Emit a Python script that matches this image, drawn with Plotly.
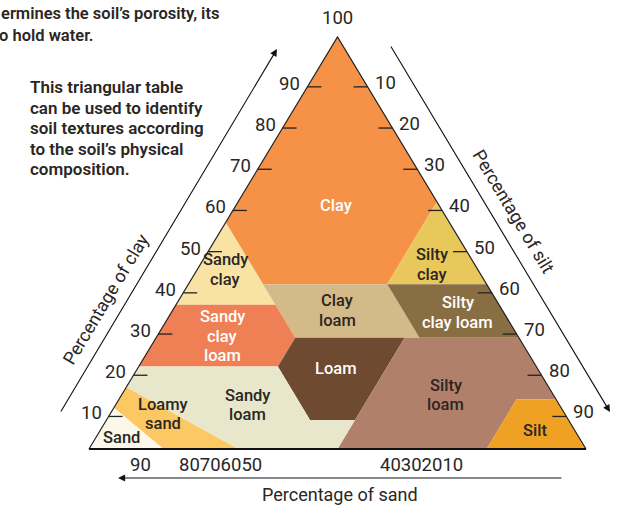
import plotly.graph_objects as go

# ---------------- data ----------------
TEXTURES = ["Clay", "Silty clay", "Sandy clay", "Clay loam", "Silty clay loam",
            "Sandy clay loam", "Loam", "Silty loam", "Sandy loam", "Loamy sand",
            "Sand", "Silt"]

# region boundaries as (sand %, silt %, clay %)
CLAY_POLY = [(0, 0, 100), (0, 40, 60), (20, 40, 40), (45, 15, 40), (45, 0, 55)]
SILTY_CLAY_POLY = [(0, 40, 60), (0, 60, 40), (20, 40, 40)]
SANDY_CLAY_POLY = [(45, 0, 55), (65, 0, 35), (45, 20, 35)]
CLAY_LOAM_POLY = [(20, 40, 40), (45, 15, 40), (45, 28, 27), (20, 53, 27)]
SILTY_CLAY_LOAM_POLY = [(0, 60, 40), (20, 40, 40), (20, 53, 27), (0, 73, 27)]
SANDY_CLAY_LOAM_POLY = [(45, 20, 35), (65, 0, 35), (80, 0, 20), (52, 28, 20), (45, 28, 27)]
LOAM_POLY = [(45, 28, 27), (23, 50, 27), (43, 50, 7), (52, 41, 7), (52, 28, 20)]
SILTY_LOAM_POLY = [(0, 73, 27), (23, 50, 27), (50, 50, 0), (20, 80, 0), (8, 80, 12), (0, 88, 12)]
SANDY_LOAM_POLY = [(80, 0, 20), (52, 28, 20), (52, 41, 7), (43, 50, 7), (50, 50, 0), (70, 30, 0), (85, 0, 15)]
LOAMY_SAND_POLY = [(85, 0, 15), (70, 30, 0), (85, 15, 0), (90, 0, 10)]
SAND_POLY = [(90, 0, 10), (85, 15, 0), (100, 0, 0)]
SILT_POLY = [(20, 80, 0), (0, 100, 0), (0, 88, 12), (8, 80, 12)]

POLYS = [CLAY_POLY, SILTY_CLAY_POLY, SANDY_CLAY_POLY, CLAY_LOAM_POLY, SILTY_CLAY_LOAM_POLY,
         SANDY_CLAY_LOAM_POLY, LOAM_POLY, SILTY_LOAM_POLY, SANDY_LOAM_POLY, LOAMY_SAND_POLY,
         SAND_POLY, SILT_POLY]

LABEL_LINES = [["Clay"], ["Silty", "clay"], ["Sandy", "clay"], ["Clay", "loam"],
               ["Silty", "clay loam"], ["Sandy", "clay", "loam"], ["Loam"],
               ["Silty", "loam"], ["Sandy", "loam"], ["Loamy", "sand"], ["Sand"], ["Silt"]]

CLAY_TICKS = [10, 20, 30, 40, 50, 60, 70, 80, 90]
SILT_TICKS = [10, 20, 30, 40, 50, 60, 70, 80, 90]
SAND_TICK_TEXT = ["90", "80706050", "40302010"]
APEX_TEXT = "100"

AXIS_TITLES = ["Percentage of clay", "Percentage of silt", "Percentage of sand"]
INTRO_LINES = ["ermines the soil\u2019s porosity, its", "o hold water."]
NOTE_LINES = ["This triangular table", "can be used to identify",
              "soil textures according", "to the soil\u2019s physical", "composition."]

# ---------------- styles / layout ----------------
W, H = 630, 506
LEFT_PX, RIGHT_PX, BASE_PX, APEX_PX = 89, 586, 449, 37
SX = (RIGHT_PX - LEFT_PX) / 100.0
SY = (BASE_PX - APEX_PX) / 100.0

COLORS = ["#F69247", "#E9C85B", "#F8E3A4", "#D4BA89", "#8A6E43", "#EF7F55",
          "#6E4A31", "#B1806A", "#E8E7CB", "#FBC863", "#FBF8EA", "#EFA124"]
LABEL_COLORS = ["white", "#2a2624", "#2a2624", "#2a2624", "white", "white",
                "white", "#2a2624", "#2a2624", "#2a2624", "#2a2624", "#2a2624"]
# label anchor (x, y) in triangle units
LABEL_POS = [(49.7, 59.0), (69.0, 44.8), (27.4, 43.6), (49.9, 33.6), (74.2, 33.1),
             (26.8, 27.4), (49.7, 19.6), (71.8, 13.1), (31.8, 10.7), (14.9, 8.5),
             (6.6, 2.7), (89.7, 4.4)]
LINE_PITCH = 19.6
TICK_SHIFT = -2.1
TICK_LEN = 14
FONT = "Roboto, Liberation Sans, Arial, sans-serif"
DARK = "#2a2624"


def to_xy(sand, silt, clay):
    return silt + clay / 2.0, clay


def px(x_px, y_px):
    return (x_px - LEFT_PX) / SX, (BASE_PX - y_px) / SY


fig = go.Figure()

for name, poly, col in zip(TEXTURES, POLYS, COLORS):
    pts = [to_xy(*p) for p in poly] + [to_xy(*poly[0])]
    fig.add_trace(go.Scatter(
        x=[p[0] for p in pts], y=[p[1] for p in pts], mode="lines",
        fill="toself", fillcolor=col, line=dict(width=0, color=col),
        name=name, hoverinfo="name", showlegend=False))

# triangle outline
corners = [to_xy(100, 0, 0), to_xy(0, 0, 100), to_xy(0, 100, 0)]
fig.add_trace(go.Scatter(x=[c[0] for c in corners], y=[c[1] for c in corners],
                         mode="lines", line=dict(color="#222", width=1.2),
                         hoverinfo="skip", showlegend=False))
fig.add_trace(go.Scatter(x=[corners[0][0], corners[2][0]], y=[0, 0],
                         mode="lines", line=dict(color="#111", width=1.8),
                         hoverinfo="skip", showlegend=False))

annotations = []

# clay ticks (left edge)
tx, ty = [], []
for v in CLAY_TICKS:
    yt = v + TICK_SHIFT
    xe = yt / 2.0
    tx += [xe, xe + TICK_LEN / SX, None]
    ty += [yt, yt, None]
    annotations.append(dict(x=xe, y=yt, text=str(v), showarrow=False, xanchor="right",
                            yanchor="middle", xshift=-5, yshift=3,
                            font=dict(size=18.5, color=DARK, family=FONT)))
# silt ticks (right edge)
for v in SILT_TICKS:
    yt = 100 - v + TICK_SHIFT
    xe = 100 - yt / 2.0
    tx += [xe - TICK_LEN / SX, xe, None]
    ty += [yt, yt, None]
    annotations.append(dict(x=xe, y=yt, text=str(v), showarrow=False, xanchor="left",
                            yanchor="middle", xshift=5, yshift=4,
                            font=dict(size=18.5, color=DARK, family=FONT)))
fig.add_trace(go.Scatter(x=tx, y=ty, mode="lines", line=dict(color="#222", width=1.3),
                         hoverinfo="skip", showlegend=False))

# sand labels along the base
SAND_TEXT_PX = [140, 220, 421]
for t, xp in zip(SAND_TICK_TEXT, SAND_TEXT_PX):
    x, y = px(xp, 465)
    annotations.append(dict(x=x, y=y, text=t, showarrow=False, xanchor="center",
                            yanchor="middle", font=dict(size=18.5, color=DARK, family=FONT)))
ax_, ay_ = px(337, 18)
annotations.append(dict(x=ax_, y=ay_, text=APEX_TEXT, showarrow=False,
                        font=dict(size=18.5, color=DARK, family=FONT)))

# region labels
for lines, (lx, ly), lc in zip(LABEL_LINES, LABEL_POS, LABEL_COLORS):
    n = len(lines)
    for i, t in enumerate(lines):
        off = ((n - 1) / 2.0 - i) * LINE_PITCH
        annotations.append(dict(x=lx, y=ly, text=t, showarrow=False, yshift=off,
                                xanchor="center", yanchor="middle", borderpad=0,
                                font=dict(size=16.5, color=lc, family=FONT, weight=500)))

# arrows
def arrow(p_from, p_to):
    x0, y0 = px(*p_from)
    x1, y1 = px(*p_to)
    return dict(x=x1, y=y1, ax=x0, ay=y0, xref="x", yref="y", axref="x", ayref="y",
                showarrow=True, arrowhead=2, arrowsize=1.3, arrowwidth=1.1,
                arrowcolor="#111", text="")

annotations.append(arrow((60, 413), (277, 49)))
annotations.append(arrow((390, 45), (610, 412)))
annotations.append(arrow((563, 478), (118, 478)))

# axis titles
for t, (xp, yp), ang in zip(AXIS_TITLES, [(105, 299), (514, 211), (340, 494)], [-59, 59, 0]):
    x, y = px(xp, yp)
    annotations.append(dict(x=x, y=y, text=t, showarrow=False, textangle=ang,
                            font=dict(size=18, color=DARK, family=FONT)))

# text blocks (paper coordinates)
for i, t in enumerate(INTRO_LINES):
    annotations.append(dict(x=[-1, -3][i] / W, y=1 - (14 + i * 21) / H, xref="paper", yref="paper",
                            text=t, showarrow=False, xanchor="left",
                            yanchor="middle", font=dict(size=16.5, color=DARK, family=FONT, weight=600)))
for i, t in enumerate(NOTE_LINES):
    annotations.append(dict(x=28 / W, y=1 - (87 + i * 20.6) / H, xref="paper", yref="paper",
                            text=t, showarrow=False, xanchor="left",
                            yanchor="middle", font=dict(size=17, color=DARK, family=FONT, weight=600)))

x0r, _ = px(0, 0)
x1r, _ = px(W, 0)
_, y1r = px(0, 0)
_, y0r = px(0, H)
fig.update_layout(
    width=W, height=H, margin=dict(l=0, r=0, t=0, b=0),
    paper_bgcolor="white", plot_bgcolor="white",
    xaxis=dict(range=[x0r, x1r], visible=False, fixedrange=True),
    yaxis=dict(range=[y0r, y1r], visible=False, fixedrange=True),
    annotations=annotations, showlegend=False,
)

fig.write_html("out.html", config={"displayModeBar": False},
               post_script="document.body.style.margin='0';document.body.style.overflow='hidden';")
